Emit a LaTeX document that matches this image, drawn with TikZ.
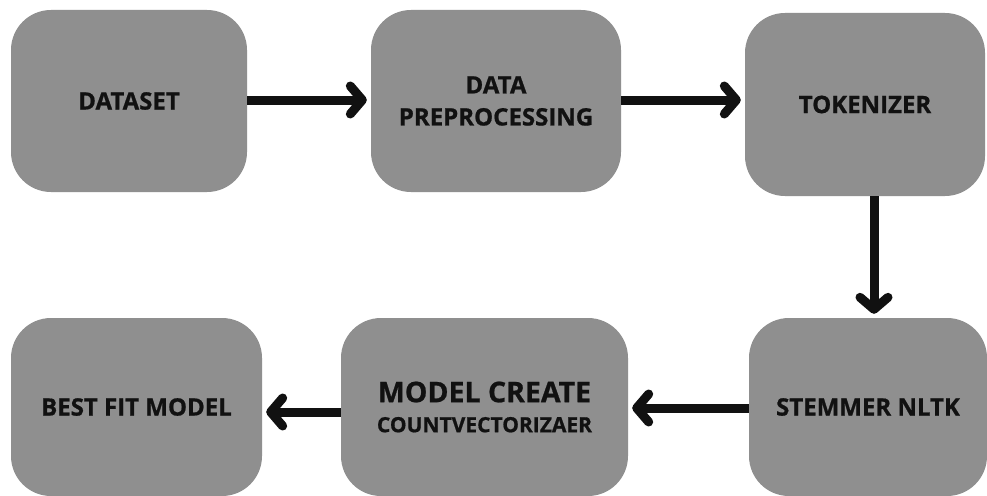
\documentclass[tikz,border=0pt]{standalone}
\usepackage{fontspec}
\setmainfont[BoldFeatures={FakeBold=0.8}]{Open Sans}
\usetikzlibrary{arrows.meta,calc}
\definecolor{boxgray}{HTML}{8F8F8F}
\definecolor{ink}{HTML}{111111}
\begin{document}
\begin{tikzpicture}[x=1pt,y=-1pt,
  box/.style={draw=none,fill=boxgray,rounded corners=40pt,inner sep=0pt,
    text=ink,align=center,font=\bfseries\fontsize{24}{32}\selectfont},
  arr/.style={draw=ink,line width=9pt,-{Straight Barb[round,length=12pt,width=28pt]}}]
\useasboundingbox[fill=white] (0,0) rectangle (987,495);
\node[box,minimum width=236pt,minimum height=182pt] (a) at (129,101) {DATASET};
\node[box,minimum width=250pt,minimum height=182pt] (b) at (496,101) {DATA\\PREPROCESSING};
\node[box,minimum width=240pt,minimum height=183pt] (c) at (865,104.5) {TOKENIZER};
\node[box,minimum width=238pt,minimum height=178pt] (d) at (868,407) {STEMMER NLTK};
\node[box,minimum width=287pt,minimum height=178pt] (e) at (484.5,407) {{\fontsize{28.5}{34}\selectfont MODEL CREATE}\\[-2pt]{\fontsize{21}{26}\selectfont COUNTVECTORIZAER}};
\node[box,minimum width=251pt,minimum height=178pt] (f) at (136.5,407) {BEST FIT MODEL};
\coordinate (cs) at ($(c.south)+(9,0)$);
\draw[arr] ($(a.east)+(0,-1)$) -- ($(b.west)+(-4,-1)$);
\draw[arr] ($(b.east)+(0,-1)$) -- ($(b.east -| c.west)+(-4,-1)$);
\draw[arr,shorten >=4pt] (cs) -- (cs |- d.north);
\draw[arr] ($(d.west)+(0,1)$) -- ($(e.east)+(4,1)$);
\draw[arr] ($(e.west)+(0,5)$) -- ($(f.east)+(4,5)$);
\end{tikzpicture}
\end{document}
